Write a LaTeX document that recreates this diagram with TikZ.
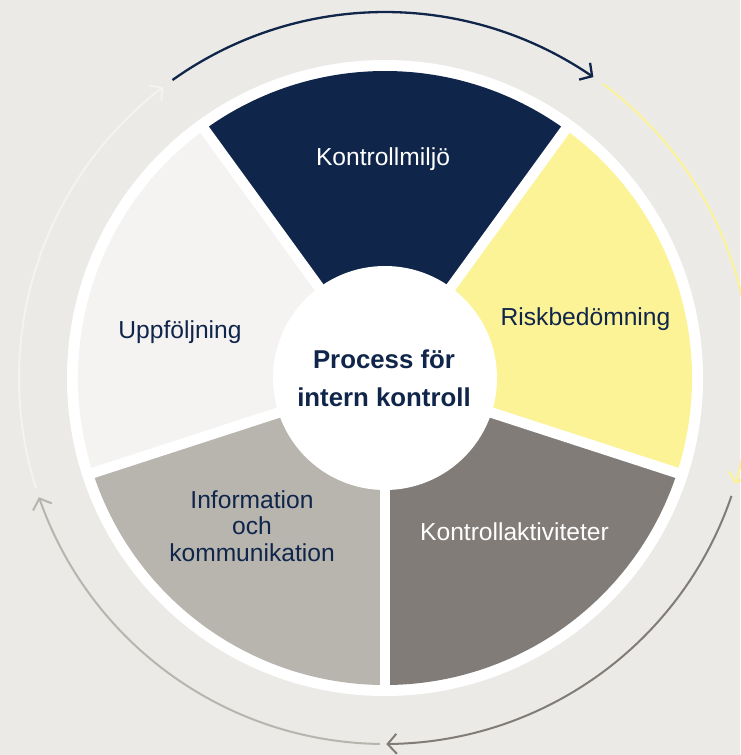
\documentclass[tikz,border=0pt]{standalone}
\usepackage{fontspec}
\setmainfont{Liberation Sans}
\usetikzlibrary{arrows.meta,bending}
\definecolor{bgc}{HTML}{EBEAE7}
\definecolor{navyc}{HTML}{10254A}
\definecolor{yelc}{HTML}{FBF396}
\definecolor{dgreyc}{HTML}{817C78}
\definecolor{lgreyc}{HTML}{B8B5AF}
\definecolor{vlightc}{HTML}{F4F3F2}
\tikzset{
  ring/.style={line width=2pt, -{Straight Barb[length=9pt,width=20pt,bend]}},
  lbl/.style={anchor=base, inner sep=0pt, font=\fontsize{24.6}{26}\selectfont},
  hubtxt/.style={anchor=base, inner sep=0pt, text=navyc, font=\bfseries\fontsize{25.8}{30}\selectfont},
  gap/.style={white, line width=10.5pt}
}
\begin{document}
\begin{tikzpicture}[x=1pt,y=-1pt]
\fill[bgc] (0,0) rectangle (740,755);
\useasboundingbox (0,0) rectangle (740,755);
\coordinate (c) at (385,378);
% white disk
\fill[white] (c) circle[radius=318pt];
% wedges
\fill[navyc] (c) -- ++(54:307pt) arc[start angle=54, end angle=126, radius=307pt] -- cycle;
\fill[vlightc] (c) -- ++(126:307pt) arc[start angle=126, end angle=198, radius=307pt] -- cycle;
\fill[lgreyc] (c) -- ++(198:307pt) arc[start angle=198, end angle=270, radius=307pt] -- cycle;
\fill[dgreyc] (c) -- ++(270:307pt) arc[start angle=270, end angle=342, radius=307pt] -- cycle;
\fill[yelc] (c) -- ++(-18:307pt) arc[start angle=-18, end angle=54, radius=307pt] -- cycle;
% gaps
\foreach \a in {54,126,198,270,342} \draw[gap] (c) -- ++(\a:314pt);
% hub
\node[circle, fill=white, minimum size=224pt, inner sep=0pt] (hub) at (c) {};
\node[hubtxt] (h1) at (384,368) {Process för};
\node[hubtxt] (h2) at (384,406) {intern kontroll};
% labels
\node[lbl, text=white] (km) at (383,165) {Kontrollmiljö};
\node[lbl, text=navyc] (rb) at (585.5,325) {Riskbedömning};
\node[lbl, text=white] (ka) at (514.5,540) {Kontrollaktiviteter};
\node[lbl, text=navyc] (i1) at (252,508) {Information};
\node[lbl, text=navyc] (i2) at (252,534) {och};
\node[lbl, text=navyc] (i3) at (252,561) {kommunikation};
\node[lbl, text=navyc] (up) at (180,338) {Uppföljning};
% outer cycle arrows
\draw[ring, navyc, line width=2.3pt] (c) ++(125.5:366pt) arc[start angle=125.5, end angle=55.3, radius=366pt];
\draw[ring, yelc] (c) ++(53.5:366pt) arc[start angle=53.5, end angle=-16.8, radius=366pt];
\draw[ring, dgreyc] (c) ++(-18.8:366pt) arc[start angle=-18.8, end angle=-89.8, radius=366pt];
\draw[ring, lgreyc] (c) ++(-90.8:366pt) arc[start angle=-90.8, end angle=-161, radius=366pt];
\draw[ring, vlightc] (c) ++(197.5:366pt) arc[start angle=197.5, end angle=127.3, radius=366pt];
\end{tikzpicture}
\end{document}
